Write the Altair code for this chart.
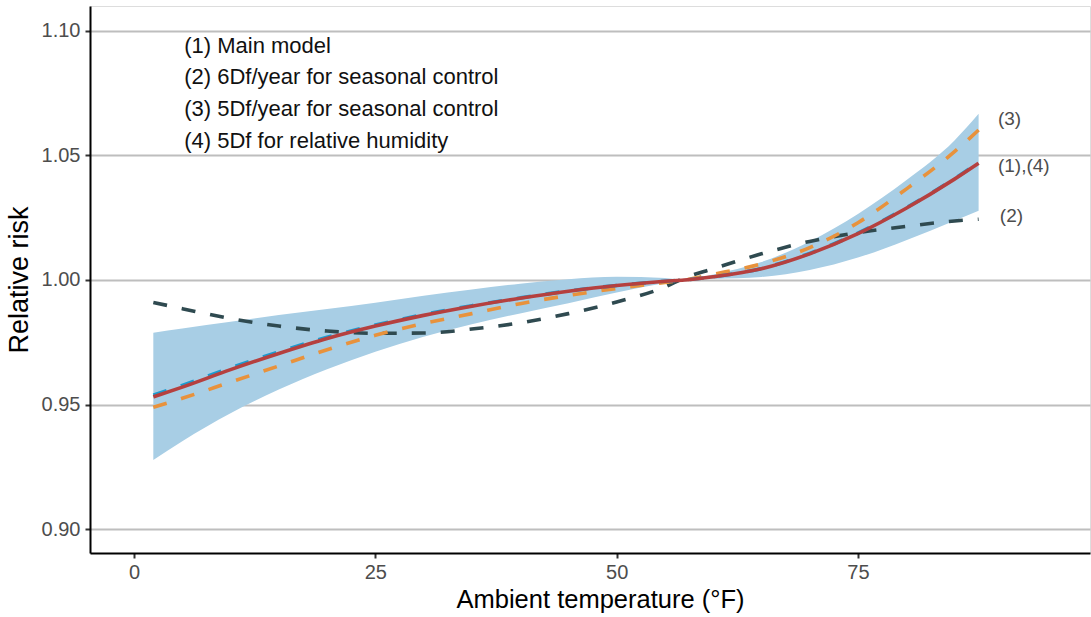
import altair as alt
import pandas as pd

# ---- data ----
temp = [2, 5, 10, 15, 20, 25, 30, 35, 40, 45, 50, 55, 57, 60, 65, 70, 75, 80, 85, 87.5]
main_rr = [0.9531, 0.9570, 0.9640, 0.9705, 0.9765, 0.9815, 0.9858, 0.9895, 0.9927, 0.9955,
           0.9978, 0.9995, 1.0000, 1.0013, 1.0045, 1.0105, 1.0186, 1.0288, 1.0405, 1.0469]
upper = [0.9788, 0.9805, 0.9832, 0.9859, 0.9884, 0.9909, 0.9937, 0.9962, 0.9985, 1.0003,
         1.0013, 1.0008, 1.0000, 1.0022, 1.0072, 1.0155, 1.0265, 1.0400, 1.0560, 1.0667]
lower = [0.9277, 0.9353, 0.9465, 0.9560, 0.9642, 0.9712, 0.9772, 0.9822, 0.9866, 0.9907,
         0.9950, 0.9988, 1.0000, 1.0004, 1.0012, 1.0040, 1.0090, 1.0160, 1.0238, 1.0278]
df6_rr = [0.9910, 0.9885, 0.9845, 0.9815, 0.9795, 0.9786, 0.9787, 0.9803, 0.9828, 0.9865,
          0.9912, 0.9972, 1.0008, 1.0045, 1.0105, 1.0155, 1.0190, 1.0215, 1.0237, 1.0244]
df5_rr = [0.9489, 0.9525, 0.9590, 0.9655, 0.9720, 0.9778, 0.9825, 0.9865, 0.9905, 0.9938,
          0.9966, 0.9990, 1.0000, 1.0023, 1.0065, 1.0130, 1.0230, 1.0365, 1.0515, 1.0602]
rh_rr = [0.9538, 0.9577, 0.9647, 0.9711, 0.9770, 0.9819, 0.9861, 0.9897, 0.9928, 0.9956,
         0.9978, 0.9995, 1.0000, 1.0013, 1.0046, 1.0107, 1.0188, 1.0290, 1.0407, 1.0472]

legend_lines = ["(1) Main model", "(2) 6Df/year for seasonal control",
                "(3) 5Df/year for seasonal control", "(4) 5Df for relative humidity"]
legend_x = [5.2, 5.2, 5.2, 5.2]
legend_y = [1.0940, 1.0815, 1.0687, 1.0558]

end_labels = ["(3)", "(1),(4)", "(2)"]
end_x = [89.5, 89.5, 89.7]
end_y = [1.0647, 1.0458, 1.0257]

x_ticks = [0, 25, 50, 75]
y_ticks = [0.90, 0.95, 1.00, 1.05, 1.10]

FONT = "Liberation Sans"

df = pd.DataFrame({"temp": temp, "main": main_rr, "upper": upper, "lower": lower,
                   "df6": df6_rr, "df5": df5_rr, "rh": rh_rr})
leg = pd.DataFrame({"text": legend_lines, "x": legend_x, "y": legend_y})
ends = pd.DataFrame({"text": end_labels, "x": end_x, "y": end_y})

xs = alt.Scale(domain=[-4.56, 99.04], nice=False, zero=False)
ys = alt.Scale(domain=[0.8904, 1.1100], nice=False, zero=False)

xax = alt.Axis(values=x_ticks, title="Ambient temperature (°F)", grid=False,
               labelFontSize=20, labelColor="#4d4d4d", titleFontSize=25.5,
               titleColor="#000000", titleFontWeight="normal", titlePadding=5,
               titleX=510,
               domainColor="#000000", domainWidth=2, tickColor="#333333",
               tickWidth=2, tickSize=5, labelPadding=4, labelFont=FONT, titleFont=FONT)
yax = alt.Axis(values=y_ticks, format=".2f", title="Relative risk", grid=True,
               gridColor="#bebebe", gridWidth=2,
               labelFontSize=20, labelColor="#4d4d4d", titleFontSize=27,
               titleColor="#000000", titleFontWeight="normal", titlePadding=8,
               domainColor="#000000", domainWidth=2, tickColor="#333333",
               tickWidth=2, tickSize=5, labelPadding=5, labelFont=FONT, titleFont=FONT)

base = alt.Chart(df)
interp = "monotone"

band = base.mark_area(color="#a8cee5", opacity=1, interpolate=interp).encode(
    x=alt.X("temp:Q", scale=xs, axis=xax),
    y=alt.Y("lower:Q", scale=ys, axis=yax),
    y2="upper:Q",
)

dash = [14, 15]
SW = 3.6
l2 = base.mark_line(color="#2f4a50", strokeWidth=SW, strokeDash=dash, interpolate=interp).encode(
    x=alt.X("temp:Q", scale=xs), y=alt.Y("df6:Q", scale=ys))
l3 = base.mark_line(color="#e8923c", strokeWidth=SW, strokeDash=dash, interpolate=interp).encode(
    x=alt.X("temp:Q", scale=xs), y=alt.Y("df5:Q", scale=ys))
l4 = base.mark_line(color="#1b9bd0", strokeWidth=SW, strokeDash=dash, interpolate=interp).encode(
    x=alt.X("temp:Q", scale=xs), y=alt.Y("rh:Q", scale=ys))
l1 = base.mark_line(color="#b5403f", strokeWidth=SW, interpolate=interp).encode(
    x=alt.X("temp:Q", scale=xs), y=alt.Y("main:Q", scale=ys))

legtext = alt.Chart(leg).mark_text(align="left", baseline="middle", fontSize=22,
                                   color="#111111", font=FONT).encode(
    x=alt.X("x:Q", scale=xs), y=alt.Y("y:Q", scale=ys), text="text:N")

endtext = alt.Chart(ends).mark_text(align="left", baseline="middle", fontSize=19,
                                    color="#4d4d4d", font=FONT).encode(
    x=alt.X("x:Q", scale=xs), y=alt.Y("y:Q", scale=ys), text="text:N")

chart = alt.layer(band, l2, l3, l4, l1, legtext, endtext).properties(
    width=1000, height=547,
    autosize=alt.AutoSizeParams(type="none"),
    padding={"left": 90, "top": 6, "right": 1, "bottom": 64},
).configure_view(stroke=None).configure(background="white")

chart.save("out.html", embed_options={"renderer": "svg", "actions": False})
